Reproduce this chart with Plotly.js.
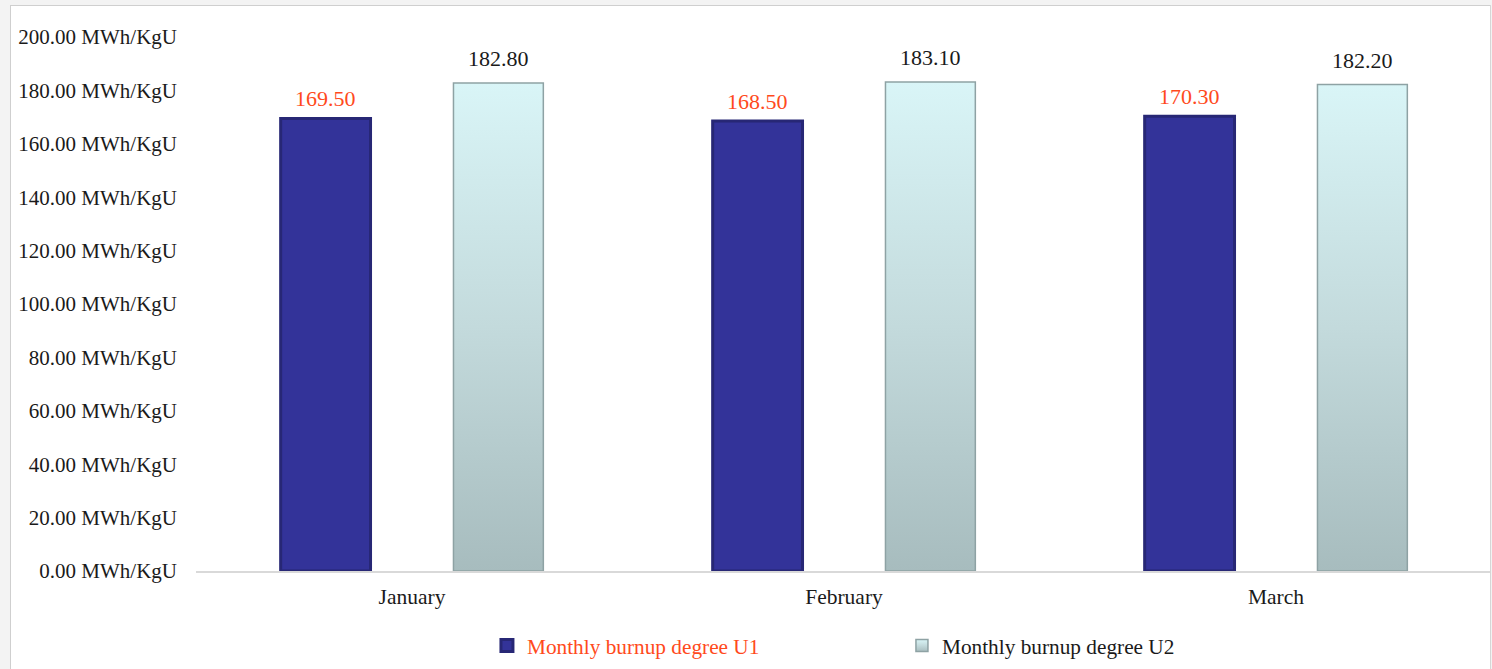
<!DOCTYPE html>
<html>
<head>
<meta charset="utf-8">
<script src="https://cdn.plot.ly/plotly-3.0.1.min.js"></script>
<style>
  html, body { margin: 0; padding: 0; background: #ffffff; }
  #chart { width: 1492px; height: 669px; }
  .frame { position: absolute; pointer-events: none; }
</style>
</head>
<body>
<div id="chart"></div>
<div class="frame" style="left:0;top:0;width:1492px;height:5px;background:#f3f3f3;"></div>
<div class="frame" style="left:0;top:0;width:10px;height:669px;background:#f3f3f3;"></div>
<div class="frame" style="left:10px;top:5px;width:1481px;height:1px;background:#cfcfcf;"></div>
<div class="frame" style="left:10px;top:5px;width:1px;height:664px;background:#cfcfcf;"></div>
<div class="frame" style="left:1490px;top:5px;width:1px;height:664px;background:#d6d6d6;"></div>
<div class="frame" style="left:1491px;top:0;width:1px;height:669px;background:#f3f3f3;"></div>
<script>
const months = ['January', 'February', 'March'];
const u1Values = [169.50, 168.50, 170.30];
const u2Values = [182.80, 183.10, 182.20];
const seriesNames = ['Monthly burnup degree U1', 'Monthly burnup degree U2'];

const FONT = 'Liberation Serif, Times New Roman, serif';
const RED = '#ff4a1c';

const traces = [
  {
    type: 'bar', x: months, y: u1Values,
    name: '<span style="color:' + RED + '">' + seriesNames[0] + '</span>',
    marker: { color: '#333399', line: { color: '#272775', width: 3 } },
    hoverinfo: 'x+y'
  },
  {
    type: 'bar', x: months, y: u2Values,
    name: seriesNames[1],
    marker: { color: '#c3d9db', line: { color: '#8ea2a4', width: 1.5 } },
    hoverinfo: 'x+y'
  }
];

const annotations = [];
months.forEach((m, i) => {
  annotations.push({
    x: i - 0.2, y: u1Values[i], xref: 'x', yref: 'y',
    text: u1Values[i].toFixed(2), showarrow: false,
    yanchor: 'bottom', yshift: 5,
    font: { family: FONT, size: 22, color: RED }
  });
  annotations.push({
    x: i + 0.2, y: u2Values[i], xref: 'x', yref: 'y',
    text: u2Values[i].toFixed(2), showarrow: false,
    yanchor: 'bottom', yshift: 10,
    font: { family: FONT, size: 22, color: '#1a1a1a' }
  });
});

const layout = {
  width: 1492, height: 669,
  margin: { l: 196, r: 0, t: 37, b: 98, pad: 0 },
  paper_bgcolor: '#ffffff', plot_bgcolor: '#ffffff',
  barmode: 'group', bargap: 0.2, bargroupgap: 0.48,
  font: { family: FONT, size: 21, color: '#1a1a1a' },
  xaxis: {
    type: 'category', range: [-0.5, 2.5],
    showgrid: false, zeroline: false,
    showline: true, linecolor: '#d9d9d9', linewidth: 2,
    ticks: '', ticklabelstandoff: 5,
    tickfont: { family: FONT, size: 21.5, color: '#1a1a1a' }
  },
  yaxis: {
    range: [0, 200], dtick: 20, tick0: 0,
    tickformat: '.2f', ticksuffix: ' MWh/KgU',
    showgrid: false, zeroline: false, showline: false,
    ticks: '', ticklabelstandoff: 18,
    tickfont: { family: FONT, size: 21, color: '#1a1a1a' }
  },
  legend: {
    orientation: 'h', x: 0.2245, xanchor: 'left', y: -0.14, yanchor: 'middle',
    font: { family: FONT, size: 21.3, color: '#1a1a1a' },
    entrywidth: 370, entrywidthmode: 'pixels',
    itemwidth: 30, traceorder: 'normal'
  },
  annotations: annotations,
  showlegend: true
};

Plotly.newPlot('chart', traces, layout, { displayModeBar: false, staticPlot: true }).then(gd => {
  const svg = gd.querySelector('svg.main-svg');
  const NS = 'http://www.w3.org/2000/svg';
  let defs = svg.querySelector('defs');
  if (!defs) { defs = document.createElementNS(NS, 'defs'); svg.insertBefore(defs, svg.firstChild); }
  const grad = document.createElementNS(NS, 'linearGradient');
  grad.setAttribute('id', 'u2grad');
  grad.setAttribute('x1', '0'); grad.setAttribute('y1', '0');
  grad.setAttribute('x2', '0'); grad.setAttribute('y2', '1');
  [['0', '#d9f5f7'], ['0.5', '#c3dadc'], ['1', '#a7bcbe']].forEach(([o, c]) => {
    const s = document.createElementNS(NS, 'stop');
    s.setAttribute('offset', o); s.setAttribute('stop-color', c);
    grad.appendChild(s);
  });
  defs.appendChild(grad);
  const traceGroups = gd.querySelectorAll('.barlayer .trace');
  if (traceGroups[1]) {
    traceGroups[1].querySelectorAll('path').forEach(p => { p.style.fill = 'url(#u2grad)'; });
  }
  const legendPts = gd.querySelectorAll('.legend .traces .legendpoints path');
  if (legendPts[1]) legendPts[1].style.fill = 'url(#u2grad)';
});
</script>
</body>
</html>
